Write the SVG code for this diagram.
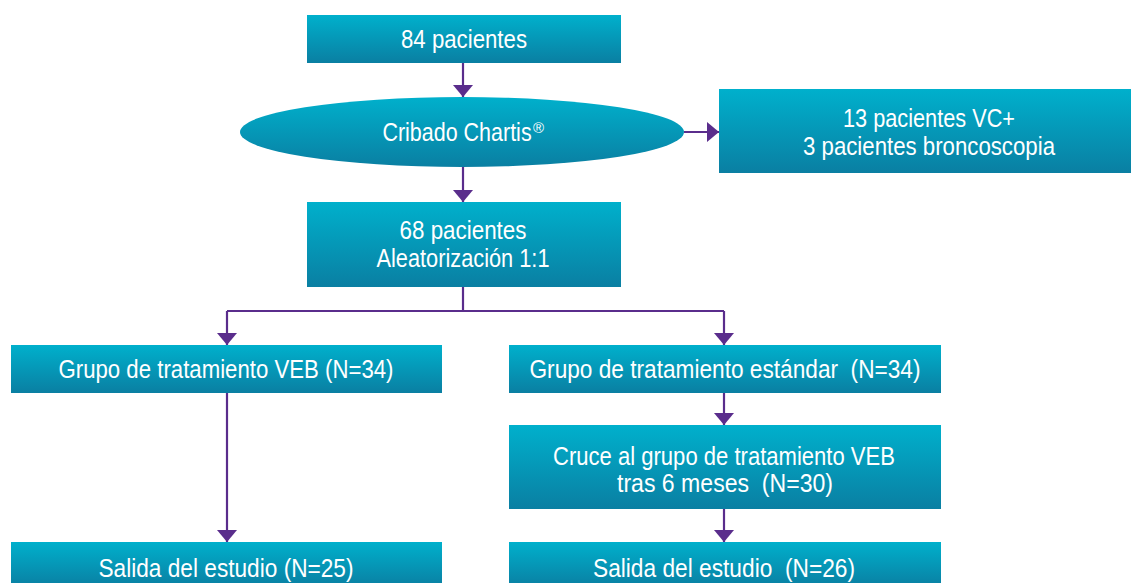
<svg xmlns="http://www.w3.org/2000/svg" width="1131" height="583" viewBox="0 0 1131 583">
<style>
.box{fill:url(#g)}
.t{font-family:"Liberation Sans",Arial,sans-serif;font-size:25px;fill:#fff;text-anchor:middle;white-space:pre}
.c{stroke:#5a2d8c;stroke-width:2.2;fill:none}
</style>
<defs>
<linearGradient id="g" x1="0" y1="0" x2="0" y2="1">
<stop offset="0" stop-color="#00b0cc"/>
<stop offset="1" stop-color="#0a7fa2"/>
</linearGradient>
<marker id="ah" markerUnits="userSpaceOnUse" markerWidth="12" markerHeight="20" refX="12" refY="10" orient="auto" viewBox="0 0 12 20">
<path d="M0,0 L12,10 L0,20 Z" fill="#5a2d8c"/>
</marker>
</defs>
<g id="connectors">
<path class="c" d="M463,63 V97" marker-end="url(#ah)"/>
<path class="c" d="M684,132 H719" marker-end="url(#ah)"/>
<path class="c" d="M463,167 V202" marker-end="url(#ah)"/>
<path class="c" d="M463,287 V311"/>
<path class="c" d="M227,311 H724"/>
<path class="c" d="M227,311 V345" marker-end="url(#ah)"/>
<path class="c" d="M724,311 V345" marker-end="url(#ah)"/>
<path class="c" d="M227,393 V542" marker-end="url(#ah)"/>
<path class="c" d="M724,393 V425" marker-end="url(#ah)"/>
<path class="c" d="M724,509 V542" marker-end="url(#ah)"/>
</g>
<g id="n1"><rect class="box" x="307" y="15" width="314" height="48"/><text class="t" x="464" y="48" textLength="126" lengthAdjust="spacingAndGlyphs">84 pacientes</text></g>
<g id="n2"><ellipse class="box" cx="462" cy="132" rx="222" ry="35"/><text class="t" transform="translate(457,141) scale(0.86,1)" x="0" y="0">Cribado Chartis</text><text class="t" x="533" y="133" style="text-anchor:start;font-size:15px">®</text></g>
<g id="n3"><rect class="box" x="719" y="89" width="412" height="84"/><text class="t" x="929" y="127" textLength="172" lengthAdjust="spacingAndGlyphs">13 pacientes VC+</text><text class="t" x="929" y="155" textLength="252" lengthAdjust="spacingAndGlyphs">3 pacientes broncoscopia</text></g>
<g id="n4"><rect class="box" x="307" y="202" width="314" height="85"/><text class="t" x="463" y="239" textLength="127" lengthAdjust="spacingAndGlyphs">68 pacientes</text><text class="t" x="463" y="267" textLength="173" lengthAdjust="spacingAndGlyphs">Aleatorización 1:1</text></g>
<g id="n5"><rect class="box" x="11" y="345" width="431" height="48"/><text class="t" x="226" y="378" textLength="335" lengthAdjust="spacingAndGlyphs">Grupo de tratamiento VEB (N=34)</text></g>
<g id="n6"><rect class="box" x="509" y="345" width="432" height="48"/><text class="t" x="725" y="378" textLength="391" lengthAdjust="spacingAndGlyphs">Grupo de tratamiento estándar  (N=34)</text></g>
<g id="n7"><rect class="box" x="509" y="425" width="432" height="84"/><text class="t" x="724" y="465" textLength="342" lengthAdjust="spacingAndGlyphs">Cruce al grupo de tratamiento VEB</text><text class="t" x="725" y="492" textLength="216" lengthAdjust="spacingAndGlyphs">tras 6 meses  (N=30)</text></g>
<g id="n8"><rect class="box" x="11" y="542" width="431" height="45"/><text class="t" x="226" y="577" textLength="255" lengthAdjust="spacingAndGlyphs">Salida del estudio (N=25)</text></g>
<g id="n9"><rect class="box" x="509" y="542" width="432" height="45"/><text class="t" x="724" y="577" textLength="262" lengthAdjust="spacingAndGlyphs">Salida del estudio  (N=26)</text></g>
</svg>
